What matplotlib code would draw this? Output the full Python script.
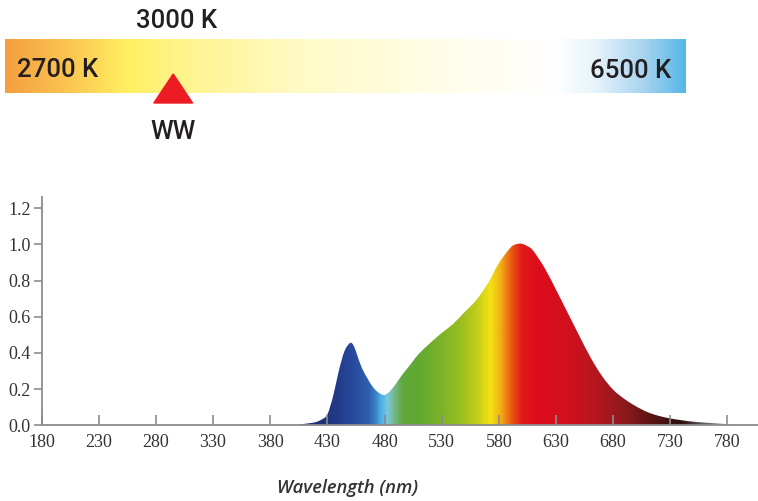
import numpy as np
import matplotlib
matplotlib.use('Agg')
import matplotlib.pyplot as plt
from matplotlib.colors import LinearSegmentedColormap, Normalize
from matplotlib.patches import Polygon
from matplotlib.path import Path

# spectrum (relative intensity)
wavelength = [400, 405, 410, 415, 420, 425, 430, 435, 440, 445, 450, 453, 456, 460,
              465, 470, 475, 480, 485, 490, 495, 500, 505, 510, 520, 530, 540, 550,
              560, 570, 580, 590, 595, 600, 605, 610, 620, 630, 640, 650, 660, 670,
              680, 690, 700, 710, 720, 730, 740, 750, 760, 770, 780, 790]
intensity = [0.0, 0.003, 0.008, 0.012, 0.018, 0.032, 0.06, 0.16, 0.30, 0.41, 0.455, 0.44,
             0.39, 0.32, 0.26, 0.21, 0.18, 0.168, 0.19, 0.23, 0.275, 0.315, 0.355, 0.395,
             0.455, 0.51, 0.56, 0.625, 0.69, 0.78, 0.895, 0.98, 1.0, 1.003, 0.99, 0.965,
             0.87, 0.75, 0.625, 0.50, 0.378, 0.275, 0.197, 0.145, 0.105, 0.073, 0.052,
             0.038, 0.028, 0.02, 0.015, 0.011, 0.006, 0.0]

x_ticks = [180, 230, 280, 330, 380, 430, 480, 530, 580, 630, 680, 730, 780]
y_ticks = [0.0, 0.2, 0.4, 0.6, 0.8, 1.0, 1.2]

# colour temperature bar
cct_labels = ['2700 K', '3000 K', '6500 K']
ww_label = 'WW'
ww_pos = 0.247

# colour of light along the spectrum
spec_stops = [(400, '#1a2560'), (430, '#1f3580'), (450, '#27479a'), (465, '#2e5eae'),
              (472, '#3a86c8'), (477, '#50b6e6'), (482, '#7cc6e0'), (489, '#72b67a'),
              (495, '#5ea83c'), (510, '#62a830'), (530, '#7cb428'), (548, '#9cc020'),
              (562, '#c8d018'), (572, '#f4e214'), (580, '#f4b814'), (586, '#ee8214'),
              (593, '#e64a14'), (600, '#e01a1c'), (615, '#de0c1c'), (640, '#d2101c'),
              (665, '#b5161e'), (690, '#8c1a1c'), (715, '#581414'), (740, '#2e1010'),
              (760, '#606060'), (800, '#d0d0d0')]
bar_stops = [(0.0, '#f5a040'), (0.08, '#fbc050'), (0.18, '#fff060'), (0.25, '#fff38a'),
             (0.43, '#fffac6'), (0.65, '#fffdea'), (0.81, '#ffffff'), (0.87, '#e6f3fb'),
             (0.94, '#a8d4f0'), (1.0, '#58b8e8')]


def smooth_path(xs, ys):
    # closed area under the points, edges drawn as Catmull-Rom bezier curves
    p = np.column_stack([xs, ys]).astype(float)
    verts = [(p[0, 0], 0.0), tuple(p[0])]
    codes = [Path.MOVETO, Path.LINETO]
    for i in range(len(p) - 1):
        p0 = p[max(i - 1, 0)]
        p1, p2 = p[i], p[i + 1]
        p3 = p[min(i + 2, len(p) - 1)]
        c1 = p1 + (p2 - p0) / 6.0
        c2 = p2 - (p3 - p1) / 6.0
        c1[1] = max(c1[1], 0)
        c2[1] = max(c2[1], 0)
        verts += [tuple(c1), tuple(c2), tuple(p2)]
        codes += [Path.CURVE4] * 3
    verts += [(p[-1, 0], 0.0), (p[0, 0], 0.0)]
    codes += [Path.LINETO, Path.CLOSEPOLY]
    return Path(verts, codes)


fig = plt.figure(figsize=(7.58, 5.01), dpi=100)

# ---- top bar
bax = fig.add_axes([5 / 758, 1 - 93 / 501, 681 / 758, 54 / 501])
bar_cmap = LinearSegmentedColormap.from_list('bar', bar_stops)
bax.imshow(np.linspace(0, 1, 600).reshape(1, -1), cmap=bar_cmap, aspect='auto',
           extent=[0, 1, 0, 1])
bax.set_xlim(0, 1)
bax.set_ylim(0, 1)
bax.axis('off')
font_top = dict(family=['Roboto', 'DejaVu Sans'], fontsize=18.5, color='#231f20',
                weight='medium')
bax.text(0.0176, 0.42, cct_labels[0], ha='left', va='center', **font_top)
bax.text(0.2526, 1.34, cct_labels[1], ha='center', va='center', clip_on=False, **font_top)
bax.text(0.978, 0.41, cct_labels[2], ha='right', va='center', **font_top)
bax.add_patch(Polygon([[ww_pos, 0.352], [ww_pos - 0.0285, -0.185], [ww_pos + 0.0285, -0.185]],
                      closed=True, color='#ed1c24', clip_on=False, zorder=5))
bax.text(ww_pos, -0.72, ww_label, ha='center', va='center', clip_on=False, **font_top)

# ---- spectrum
ax = fig.add_axes([41.6 / 758, 1 - 425.3 / 501, (758 - 41.6) / 758, (425.3 - 197) / 501])

spec_cmap = LinearSegmentedColormap.from_list(
    'spec', [((w - 400) / 400, c) for w, c in spec_stops])
img = ax.imshow(np.linspace(400, 800, 800).reshape(1, -1), cmap=spec_cmap,
                norm=Normalize(400, 800), aspect='auto', extent=[400, 800, 0, 1.1],
                interpolation='bilinear', zorder=1)
img.set_clip_path(smooth_path(wavelength, intensity), transform=ax.transData)
ax.set_xlim(180, 180 + (758 - 41.6) / 1.143)
ax.set_ylim(0, (425.3 - 197) / 181)

for side in ['top', 'right']:
    ax.spines[side].set_visible(False)
for side in ['left', 'bottom']:
    ax.spines[side].set_color('#8c8c8c')
    ax.spines[side].set_linewidth(1.3)
    ax.spines[side].set_zorder(3)

serif = ['Liberation Serif', 'DejaVu Serif']
ax.set_xticks(x_ticks)
ax.set_xticklabels([str(t) for t in x_ticks], family=serif, fontsize=13, color='#333333')
ax.set_yticks(y_ticks)
ax.set_yticklabels(['%.1f' % t for t in y_ticks], family=serif, fontsize=13, color='#333333')
ax.tick_params(axis='x', direction='in', length=7, width=1.2, color='#8c8c8c', pad=6)
ax.tick_params(axis='y', direction='out', length=6, width=1.2, color='#8c8c8c', pad=2)

fig.text(348 / 758, 1 - 488 / 501, 'Wavelength (nm)', ha='center', va='center',
         family=['Open Sans', 'DejaVu Sans'], style='italic', weight='semibold',
         fontsize=13.2, color='#333333')

fig.savefig('out.png', dpi=100)
